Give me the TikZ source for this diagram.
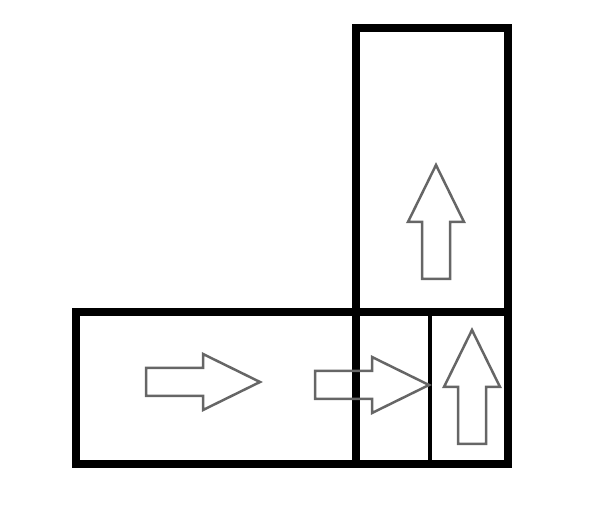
\documentclass[tikz,border=0pt]{standalone}
\begin{document}
\begin{tikzpicture}[x=1pt,y=-1pt,
  box/.style={draw, line width=7.5pt, inner sep=0pt},
  divider/.style={line width=3.5pt},
  blockarrow/.pic={
    \draw[black!60, line width=2.5pt, line join=miter]
      (-57,-14) -- (0,-14) -- (0,-28) -- (57,0) -- (0,28) -- (0,14) -- (-57,14) -- cycle;
  }]
  \useasboundingbox (0,0) rectangle (590,505);

  % Boxes
  \node[box, minimum width=432pt, minimum height=152pt] (flow) at (292,388) {};
  \node[box, minimum width=152pt, minimum height=436pt] (riser) at (432,246) {};
  \draw[divider] (430,312) -- (430,464);

  % Flow arrows
  \pic at (203,382) {blockarrow};
  \pic at (372,385) {blockarrow};
  \pic[rotate=90] at (472,387) {blockarrow};
  \pic[rotate=90] at (436,222) {blockarrow};
\end{tikzpicture}
\end{document}
